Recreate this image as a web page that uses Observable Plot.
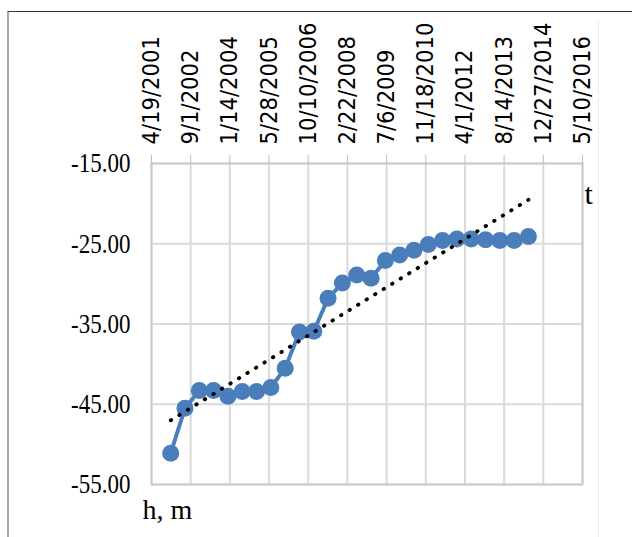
<!DOCTYPE html>
<html><head><meta charset="utf-8">
<script src="https://cdn.jsdelivr.net/npm/d3@7"></script>
<script src="https://cdn.jsdelivr.net/npm/@observablehq/plot@0.6"></script>
<style>
body{margin:0;background:#fff;}
#wrap{position:relative;width:632px;height:537px;overflow:hidden;background:#fff;}
#border{position:absolute;left:7px;top:11px;right:-5px;bottom:-5px;border-top:1.5px solid #333;border-left:2px solid #a8a8a8;}
#rline{position:absolute;left:598px;top:20px;width:1px;bottom:0;background:#eee;}
#chart{position:absolute;left:0;top:0;}
</style></head><body>
<div id="wrap"><div id="border"></div><div id="rline"></div><div id="chart"></div></div>
<script>
const tickLabels = ["4/19/2001","9/1/2002","1/14/2004","5/28/2005","10/10/2006","2/22/2008","7/6/2009","11/18/2010","4/1/2012","8/14/2013","12/27/2014","5/10/2016"];
const yTicks = [-55,-45,-35,-25,-15];
const dates = ["2001-12-20","2002-06-20","2002-12-20","2003-06-20","2003-12-20","2004-06-20","2004-12-20","2005-06-20","2005-12-20","2006-06-20","2006-12-20","2007-06-20","2007-12-20","2008-06-20","2008-12-20","2009-06-20","2009-12-20","2010-06-20","2010-12-20","2011-06-20","2011-12-20","2012-06-20","2012-12-20","2013-06-20","2013-12-20","2014-06-20"];
const levels = [-51.1,-45.5,-43.3,-43.3,-44.0,-43.4,-43.4,-42.9,-40.5,-36.0,-35.9,-31.8,-29.9,-28.9,-29.3,-27.1,-26.4,-25.8,-25.1,-24.6,-24.4,-24.4,-24.5,-24.6,-24.6,-24.1];
const xAxisName = "t";
const yAxisName = "h, m";

const parseTick = d3.utcParse("%m/%d/%Y");
const parseDate = d3.utcParse("%Y-%m-%d");
const tickDates = tickLabels.map(parseTick);
const fmt = d3.utcFormat("%-m/%-d/%Y");
const data = dates.map((d, i) => ({date: parseDate(d), h: levels[i]}));

const serif = "'Liberation Serif', 'Times New Roman', serif";
const chart = Plot.plot({
  width: 632, height: 537,
  marginTop: 163, marginLeft: 151, marginRight: 50, marginBottom: 53,
  style: {background: "transparent", overflow: "visible", color: "black"},
  x: {type: "utc", domain: [tickDates[0], tickDates[tickDates.length - 1]]},
  y: {domain: [-55, -15]},
  marks: [
    Plot.gridX(tickDates, {stroke: "#dadada", strokeOpacity: 1, strokeWidth: 2}),
    Plot.gridY(yTicks, {stroke: "#dadada", strokeOpacity: 1, strokeWidth: 2}),
    Plot.frame({stroke: "#cccccc", strokeWidth: 2}),
    Plot.axisX(tickDates, {anchor: "top", tickFormat: fmt, tickRotate: -90, tickSize: 9, tickPadding: 10,
      stroke: "#bfbfbf", fill: "black", fontSize: 23.5, label: null,
      fontFamily: "'DejaVu Sans Condensed', 'DejaVu Sans', sans-serif", fontStretch: "condensed"}),
    Plot.axisY(yTicks, {anchor: "left", tickFormat: d => d.toFixed(2), tickSize: 0, tickPadding: 21,
      fill: "black", fontSize: 23, fontFamily: serif, label: null}),
    Plot.line(data, {x: "date", y: "h", stroke: "#4a7ebb", strokeWidth: 4}),
    Plot.dot(data, {x: "date", y: "h", r: 8.5, fill: "#4a7ebb", stroke: null}),
    Plot.linearRegressionY(data, {x: "date", y: "h", ci: 0, stroke: "black", strokeWidth: 3.8,
      strokeDasharray: "0.5,9.5", strokeLinecap: "round"}),
    Plot.text([xAxisName], {frameAnchor: "top-right", dx: 2, dy: 31, textAnchor: "start", lineAnchor: "middle",
      fontSize: 30, fontFamily: serif, fill: "black"}),
    Plot.text([yAxisName], {frameAnchor: "bottom-left", dx: -9, dy: 34, textAnchor: "start", lineAnchor: "bottom",
      fontSize: 28, fontFamily: serif, fill: "black"})
  ]
});
document.getElementById("chart").appendChild(chart);
// stretch the serif y tick labels vertically as in the reference
d3.select(chart).selectAll("g[aria-label='y-axis tick label'] text").each(function() {
  const t = this.getAttribute("transform") || "";
  this.setAttribute("transform", t + " scale(1,1.22)");
});
</script>
</body></html>
